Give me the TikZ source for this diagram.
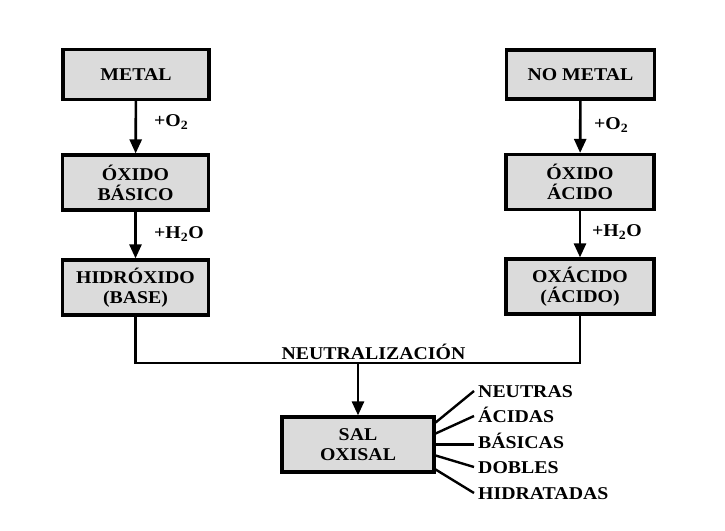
\documentclass[tikz,border=0pt]{standalone}
\usepackage{fontspec}
\setmainfont{Liberation Serif}[FakeStretch=1.1]
\usetikzlibrary{arrows.meta,calc}
\tikzset{
  box/.style={draw=black, line width=3.2pt, fill=black!14, minimum width=146pt,
    minimum height=55pt, inner sep=0pt, align=center,
    font=\fontsize{18}{20}\selectfont\bfseries},
  flow/.style={line width=2.6pt, -{Triangle[length=14pt,width=12pt]}},
  link/.style={line width=2.4pt},
  lbl/.style={font=\fontsize{18}{20}\selectfont\bfseries, inner sep=0pt},
  kind/.style={font=\fontsize{18}{20}\selectfont\bfseries, anchor=west, inner sep=4pt,
    text height=12pt, text depth=0pt}
}
\begin{document}
\begin{tikzpicture}[x=1pt,y=-1pt]
\useasboundingbox (0,0) rectangle (725,530);
% boxes
\node[box, minimum height=50pt] (metal) at (136,74.5) {METAL};
\node[box] (oxb) at (135.5,182.5) {ÓXIDO\\BÁSICO};
\node[box] (hid) at (135.5,287.5) {HIDRÓXIDO\\(BASE)};
\node[box, minimum width=148pt, minimum height=49pt] (nometal) at (580.5,74.5) {NO METAL};
\node[box, minimum width=148pt] (oxa) at (580,182) {ÓXIDO\\ÁCIDO};
\node[box, minimum width=148pt] (oxac) at (580,286.5) {OXÁCIDO\\(ÁCIDO)};
\node[box, minimum width=152pt] (sal) at (358,444.5) {SAL\\OXISAL};
% vertical arrows
\draw[flow] (metal) -- (oxb);
\draw[flow] (oxb) -- (hid);
\draw[flow] (nometal) -- (oxa);
\draw[flow] (oxa) -- (oxac);
% reagent labels
\node[lbl, anchor=west] (o2l) at (154,122) {+O\textsubscript{2}};
\node[lbl, anchor=west] (h2ol) at (154,234) {+H\textsubscript{2}O};
\node[lbl, anchor=west] (o2r) at (594,125) {+O\textsubscript{2}};
\node[lbl, anchor=west] (h2or) at (592,232) {+H\textsubscript{2}O};
% neutralization
\coordinate (j) at (358,363);
\draw[link] (hid.south) -- (hid.south |- j) -- (oxac.south |- j) -- (oxac.south);
\draw[flow] (j) -- (sal.north);
\node[lbl] (neu) at (373.5,352) {NEUTRALIZACIÓN};
% kinds of salts
\node[kind] (k1) at (474,391) {NEUTRAS};
\node[kind] (k2) at (474,416) {ÁCIDAS};
\node[kind] (k3) at (474,442) {BÁSICAS};
\node[kind] (k4) at (474,467) {DOBLES};
\node[kind] (k5) at (474,493) {HIDRATADAS};
\draw[link] ($(sal.east)+(0,-22)$) -- (k1.west);
\draw[link] ($(sal.east)+(0,-11)$) -- (k2.west);
\draw[link] (sal.east) -- (k3.west |- sal.east);
\draw[link] ($(sal.east)+(0,11)$) -- (k4.west);
\draw[link] ($(sal.east)+(0,25)$) -- (k5.west);
\end{tikzpicture}
\end{document}
